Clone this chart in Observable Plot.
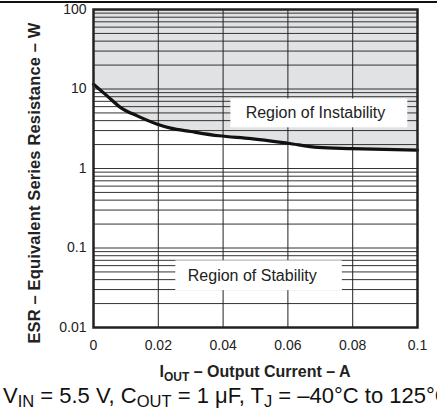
<!DOCTYPE html>
<html>
<head>
<meta charset="utf-8">
<script src="https://cdn.jsdelivr.net/npm/d3@7"></script>
<script src="https://cdn.jsdelivr.net/npm/@observablehq/plot@0.6"></script>
<style>
  html, body { margin: 0; padding: 0; background: #fff; overflow: hidden; width: 437px; height: 412px; }
  #wrap { position: relative; width: 437px; height: 412px; overflow: hidden; font-family: "Liberation Sans", Arial, sans-serif; }
  #rule { position: absolute; left: 0; top: 1px; width: 437px; height: 2px; background: #111; }
  #chart { position: absolute; left: 0; top: 0; }
  #ytitle { position: absolute; left: 34px; top: 183px; transform: translate(-50%, -50%) rotate(-90deg); font-weight: bold; font-size: 16.5px; letter-spacing: 0.15px; color: #222; white-space: nowrap; line-height: 1; }
  #xtitle { position: absolute; left: 93px; width: 324px; top: 364px; text-align: center; font-weight: bold; font-size: 16px; color: #222; white-space: nowrap; line-height: 1; }
  #caption { position: absolute; left: 3px; top: 385px; font-size: 22px; color: #111; white-space: nowrap; line-height: 1; }
  #caption sub { vertical-align: -0.22em; }
  sub { font-size: 0.75em; vertical-align: -0.3em; line-height: 0; }
</style>
</head>
<body>
<div id="wrap">
  <div id="chart"></div>
  <div id="rule"></div>
  <div id="ytitle">ESR – Equivalent Series Resistance – W</div>
  <div id="xtitle">I<sub>OUT</sub> – Output Current – A</div>
  <div id="caption">V<sub>IN</sub> = 5.5 V, C<sub>OUT</sub> = 1 μF, T<sub>J</sub> = –40°C to 125°C</div>
</div>
<script>
// Boundary curve: output current (A) vs ESR (ohm)
const current = [0, 0.0042, 0.0084, 0.0135, 0.0197, 0.0238, 0.030, 0.0387, 0.0486, 0.060, 0.0693, 0.0796, 0.1];
const esr     = [11.5, 8.2, 5.84, 4.59, 3.61, 3.22, 2.92, 2.58, 2.38, 2.08, 1.84, 1.78, 1.70];

// Axis ticks and labels
const xTicks = [0, 0.02, 0.04, 0.06, 0.08, 0.1];
const xTickLabels = ["0", "0.02", "0.04", "0.06", "0.08", "0.1"];
const yTicks = [0.01, 0.1, 1, 10, 100];
const yTickLabels = ["0.01", "0.1", "1", "10", "100"];
const xGrid = [0.02, 0.04, 0.06, 0.08];

// Region annotations (labels and their box extents in data units)
const regionLabels = ["Region of Instability", "Region of Stability"];
const regionX1 = [0.0424, 0.0254];
const regionX2 = [0.0970, 0.0768];
const regionY1 = [3.25, 0.0291];
const regionY2 = [7.5, 0.069];
const regionTX = [0.0685, 0.049];
const regionTY = [5.0, 0.0449];

const curveData = current.map((c, i) => ({c, r: esr[i]}));
const regions = regionLabels.map((label, i) => ({
  label, x1: regionX1[i], x2: regionX2[i], y1: regionY1[i], y2: regionY2[i], tx: regionTX[i], ty: regionTY[i]
}));
const yGrid = d3.scaleLog().domain([0.01, 100]).ticks();

const chart = Plot.plot({
  width: 437,
  height: 358,
  marginTop: 9,
  marginBottom: 31,
  marginLeft: 93,
  marginRight: 20,
  style: {fontFamily: "'Liberation Sans', Arial, sans-serif", fontSize: "14px", color: "#222", background: "transparent"},
  x: {domain: [0, 0.1]},
  y: {type: "log", domain: [0.01, 100]},
  marks: [
    Plot.areaY(curveData, {x: "c", y1: "r", y2: () => 100, fill: "#e1e2e4", curve: "monotone-x"}),
    Plot.ruleY(yGrid, {stroke: "#333", strokeWidth: 1}),
    Plot.ruleX(xGrid, {stroke: "#222", strokeWidth: 1}),
    Plot.rect(regions, {x1: "x1", x2: "x2", y1: "y1", y2: "y2", fill: "white"}),
    Plot.text(regions, {x: "tx", y: "ty", text: "label", fontSize: 16, fill: "#222"}),
    Plot.line(curveData, {x: "c", y: "r", stroke: "#111", strokeWidth: 3.2, curve: "monotone-x"}),
    Plot.frame({stroke: "#222", strokeWidth: 2.5}),
    Plot.axisX({ticks: xTicks, tickFormat: d => xTickLabels[xTicks.indexOf(d)], tickSize: 0, tickPadding: 13, label: null, fontSize: 14}),
    Plot.axisY({ticks: yTicks, tickFormat: d => yTickLabels[yTicks.indexOf(d)], tickSize: 0, tickPadding: 7, label: null, fontSize: 14})
  ]
});
document.getElementById("chart").appendChild(chart);
</script>
</body>
</html>
